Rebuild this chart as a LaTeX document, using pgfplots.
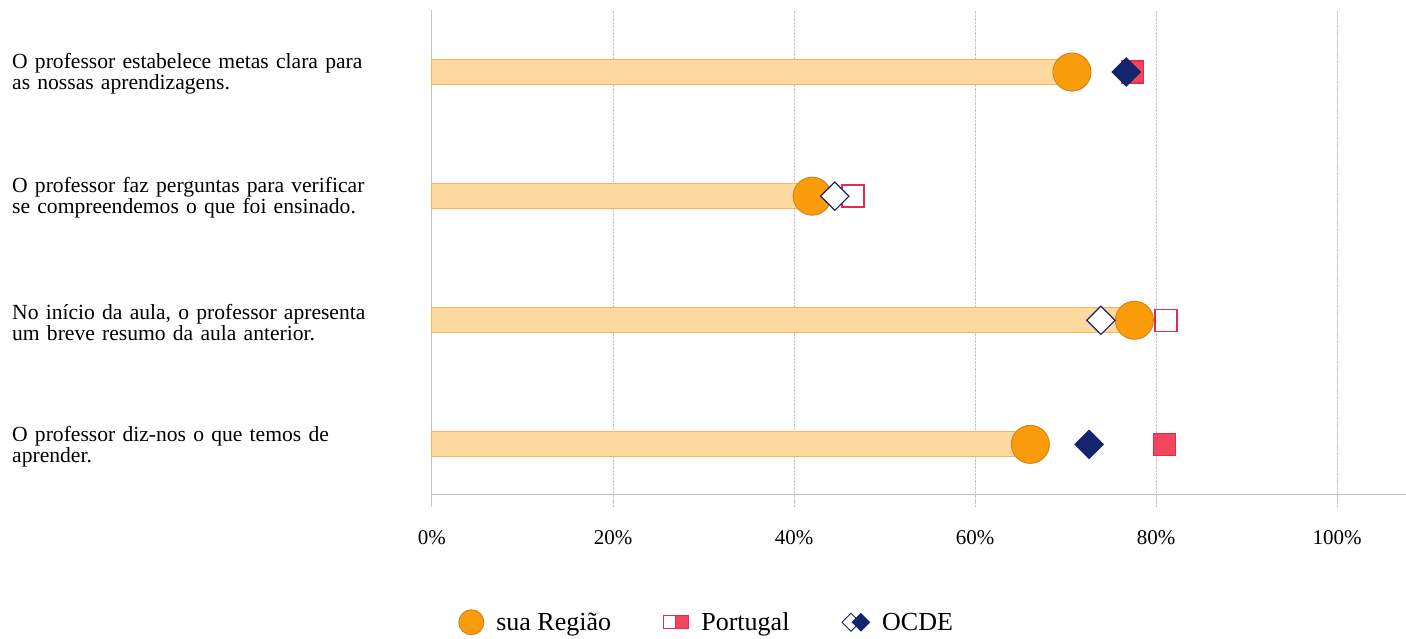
\documentclass[border=0pt]{standalone}
\usepackage{fontspec}
\setmainfont{Liberation Serif}
\usepackage{pgfplots}
\pgfplotsset{compat=1.18}
\definecolor{barfill}{RGB}{253,217,160}
\definecolor{bardraw}{RGB}{247,182,85}
\definecolor{regfill}{RGB}{250,155,10}
\definecolor{regdraw}{RGB}{212,135,25}
\definecolor{ptred}{RGB}{243,70,92}
\definecolor{ptdraw}{RGB}{228,42,78}
\definecolor{ocde}{RGB}{20,36,110}
\definecolor{axgray}{RGB}{195,195,195}

\begin{document}
\begin{tikzpicture}
\path[use as bounding box] (-432pt,-144pt) rectangle (974pt,494pt);
\begin{axis}[
    at={(0,0)}, anchor=south west,
    scale only axis, width=974pt, height=484pt,
    xmin=0, xmax=107.6, ymin=0.6, ymax=4.5,
    axis x line*=bottom, axis y line*=left,
    axis line style={axgray, line width=1pt, -},
    xtick={0,20,40,60,80,100},
    xticklabels={0\%,20\%,40\%,60\%,80\%,100\%},
    xmajorgrids,
    grid style={axgray, densely dotted, line width=1pt},
    tick align=outside, major tick length=12pt,
    xtick style={axgray, densely dotted, line width=1pt},
    xticklabel style={font=\fontsize{21}{21}\selectfont, yshift=-21pt},
    ytick={1,2,3,4},
    ytick style={draw=none},
    yticklabels={
        {O professor diz-nos o que temos de\\aprender.},
        {No início da aula, o professor apresenta\\um breve resumo da aula anterior.},
        {O professor faz perguntas para verificar\\se compreendemos o que foi ensinado.},
        {O professor estabelece metas clara para\\as nossas aprendizagens.}},
    yticklabel style={anchor=west, xshift=-408pt, yshift=-2pt, inner sep=0pt,
        text width=420pt, align=left, font=\fontsize{21.6}{21}\selectfont},
    legend columns=3,
    legend style={at={(0.282,-0.265)}, anchor=center, draw=none,
        font=\fontsize{26}{26}\selectfont,
        /tikz/every odd column/.append style={column sep=10pt},
        /tikz/every even column/.append style={column sep=50pt}},
    clip=false,
]
% bars up to sua Regiao
\addplot[xbar, bar width=25pt, bar shift=0pt, fill=barfill, draw=bardraw, line width=1pt, forget plot]
    coordinates {(66.1,1) (77.6,2) (42.0,3) (70.7,4)};
% sua Regiao
\addplot[only marks, draw=regdraw, fill=regfill, mark=*, mark size=19pt, line width=1pt, forget plot]
    coordinates {(66.1,1) (77.6,2) (42.0,3) (70.7,4)};
% Portugal filled / open
\addplot[only marks, draw=ptdraw, fill=ptred, mark=square*, mark size=11pt, line width=1.2pt, forget plot]
    coordinates {(80.9,1) (77.4,4)};
\addplot[only marks, draw=ptdraw, fill=white, mark=square*, mark size=11pt, line width=1.4pt, forget plot]
    coordinates {(81.1,2) (46.5,3)};
% OCDE filled / open
\addplot[only marks, draw=ocde, fill=ocde, mark=square*, mark size=10pt, mark options={rotate=45}, line width=1pt, forget plot]
    coordinates {(72.6,1) (76.7,4)};
\addplot[only marks, draw=ocde, fill=white, mark=square*, mark size=10pt, mark options={rotate=45}, line width=1.2pt, forget plot]
    coordinates {(73.9,2) (44.5,3)};

\addlegendimage{legend image code/.code={
    \draw[fill=regfill, draw=regdraw, line width=1pt] (12.5pt,0pt) circle (12.5pt);}}
\addlegendimage{legend image code/.code={
    \draw[fill=white, draw=ptdraw, line width=1.2pt] (0pt,-6.5pt) rectangle (13pt,6.5pt);
    \draw[fill=ptred, draw=ptdraw, line width=1.2pt] (12pt,-6.5pt) rectangle (25pt,6.5pt);}}
\addlegendimage{legend image code/.code={
    \draw[fill=white, draw=ocde, line width=1pt] (0pt,0pt) -- (9pt,9pt) -- (18pt,0pt) -- (9pt,-9pt) -- cycle;
    \fill[ocde] (10pt,0pt) -- (19pt,9pt) -- (28pt,0pt) -- (19pt,-9pt) -- cycle;}}
\legend{sua Região, Portugal, OCDE}

\draw[axgray, line width=1pt] (axis cs:0,0.6) -- (axis cs:0,0.5);
\end{axis}
\end{tikzpicture}
\end{document}
